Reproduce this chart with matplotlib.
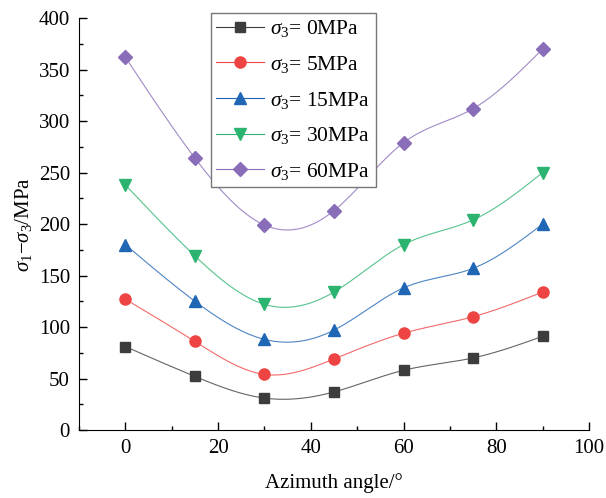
import numpy as np
import matplotlib
matplotlib.use("Agg")
from matplotlib import pyplot as plt
from matplotlib.ticker import MultipleLocator

# Données
angles = [0, 15, 30, 45, 60, 75, 90]
s3_0 = [81, 52, 31, 37, 58, 70, 91]
s3_5 = [127, 86, 54, 69, 94, 110, 134]
s3_15 = [180, 125, 88, 97, 138, 157, 200]
s3_30 = [238, 169, 122, 134, 180, 204, 250]
s3_60 = [362, 264, 199, 213, 279, 312, 370]
labels = [r"$\sigma_3$= 0MPa", r"$\sigma_3$= 5MPa", r"$\sigma_3$= 15MPa",
          r"$\sigma_3$= 30MPa", r"$\sigma_3$= 60MPa"]


def natural_spline(x, y, n=200):
    # Spline cubique naturelle pour tracer la courbe lissée
    x = np.asarray(x, float)
    y = np.asarray(y, float)
    k = len(x)
    h = np.diff(x)
    A = np.zeros((k, k))
    b = np.zeros(k)
    A[0, 0] = A[-1, -1] = 1
    for i in range(1, k - 1):
        A[i, i - 1] = h[i - 1]
        A[i, i] = 2 * (h[i - 1] + h[i])
        A[i, i + 1] = h[i]
        b[i] = 3 * ((y[i + 1] - y[i]) / h[i] - (y[i] - y[i - 1]) / h[i - 1])
    c = np.linalg.solve(A, b)
    xs = np.linspace(x[0], x[-1], n)
    ys = np.empty_like(xs)
    for j, xv in enumerate(xs):
        i = min(np.searchsorted(x, xv, side="right") - 1, k - 2)
        dx = xv - x[i]
        bi = (y[i + 1] - y[i]) / h[i] - h[i] * (2 * c[i] + c[i + 1]) / 3
        di = (c[i + 1] - c[i]) / (3 * h[i])
        ys[j] = y[i] + bi * dx + c[i] * dx ** 2 + di * dx ** 3
    return xs, ys


def main():
    plt.rcParams["font.family"] = "Liberation Serif"
    plt.rcParams["mathtext.fontset"] = "custom"
    plt.rcParams["mathtext.rm"] = "Liberation Serif"
    plt.rcParams["mathtext.it"] = "Liberation Serif:italic"
    plt.rcParams["font.size"] = 15

    fig = plt.figure(figsize=(6.06, 4.98), dpi=100)
    ax = fig.add_axes([0.1304, 0.1365, 0.8416, 0.8273])

    series = [s3_0, s3_5, s3_15, s3_30, s3_60]
    colors = ["#3d3d3d", "#ee4444", "#1f66b5", "#2bb470", "#8a6db8"]
    markers = ["s", "o", "^", "v", "D"]
    sizes = [7, 8, 8, 8, 7]

    for vals, col, mk, ms, lab in zip(series, colors, markers, sizes, labels):
        xs, ys = natural_spline(angles, vals)
        ax.plot(xs, ys, color=col, lw=0.8, alpha=0.8)
        ax.plot(angles, vals, linestyle="none", marker=mk, ms=ms, color=col)
        ax.plot([], [], color=col, lw=0.8, marker=mk, ms=ms, label=lab)

    ax.set_xlim(-10, 100)
    ax.set_ylim(0, 400)
    ax.xaxis.set_major_locator(MultipleLocator(20))
    ax.xaxis.set_minor_locator(MultipleLocator(10))
    ax.yaxis.set_major_locator(MultipleLocator(50))
    ax.yaxis.set_minor_locator(MultipleLocator(25))
    ax.spines["top"].set_visible(False)
    ax.spines["right"].set_visible(False)
    ax.tick_params(which="major", direction="in", length=6, width=1, pad=6.5)
    ax.tick_params(which="minor", direction="in", length=3, width=1)

    ax.set_xlabel("Azimuth angle/°", labelpad=11)
    ax.set_ylabel(r"$\sigma_1$$-$$\sigma_3$/MPa", labelpad=3)

    leg = ax.legend(loc="upper left", bbox_to_anchor=(211 / 606, 1 - 13 / 498),
                    bbox_transform=fig.transFigure, borderaxespad=0,
                    fancybox=False, edgecolor="#777777", framealpha=1,
                    fontsize=15.5, handlelength=2.2, labelspacing=0.68,
                    borderpad=0.25, handletextpad=0.3)
    leg.get_frame().set_linewidth(1)

    fig.savefig("out.png", dpi=100)


if __name__ == "__main__":
    main()
